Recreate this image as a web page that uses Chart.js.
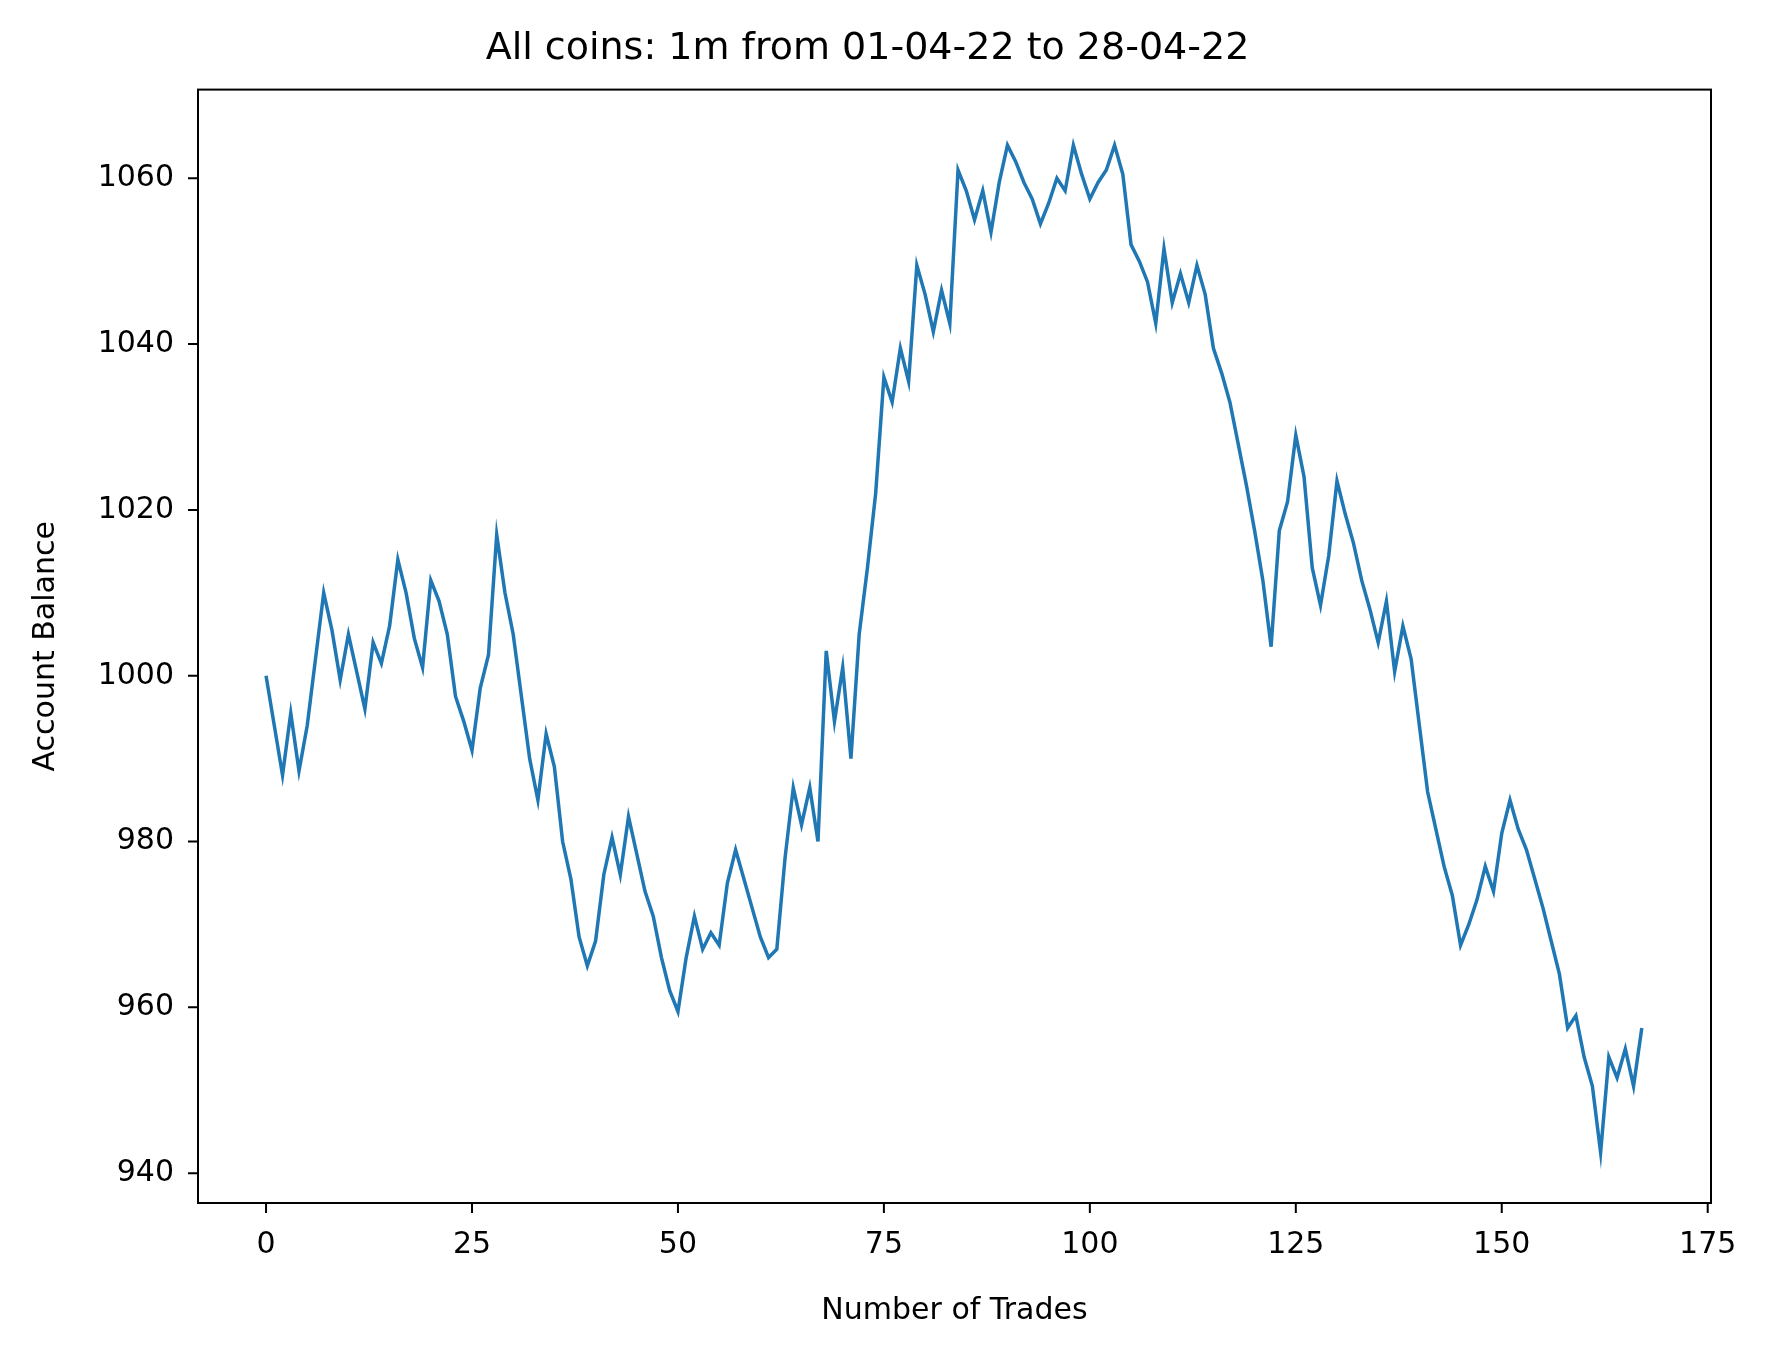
<!DOCTYPE html>
<html>
<head>
<meta charset="utf-8">
<script src="https://cdn.jsdelivr.net/npm/chart.js@4.4.0/dist/chart.umd.min.js"></script>
<style>
  body { margin: 0; background: #fff; }
  #wrap { width: 1778px; height: 1361px; }
</style>
</head>
<body>
<div id="wrap"><canvas id="balanceChart" width="1778" height="1361"></canvas></div>
<script>
// account balance after each trade
const balances = [
    1000, 994, 988, 995.5, 988.5, 994, 1002, 1010, 1005.5, 999.5,
    1005, 1000.5, 996, 1004, 1001.5, 1006, 1014, 1010, 1004.5, 1001,
    1011.5, 1009, 1005, 997.5, 994.5, 991, 998.5, 1002.5, 1017, 1010,
    1005, 997.5, 990, 985, 993, 989, 980, 975.5, 968.5, 965,
    968, 976, 980.5, 976, 983, 978.5, 974, 971, 966, 962,
    959.5, 966, 971, 967, 969, 967.5, 975, 979, 975.5, 972,
    968.5, 966, 967, 978, 986.5, 982, 986.5, 980, 1003, 994.5,
    1001, 990, 1005, 1013, 1022, 1036, 1033, 1039.5, 1035.5, 1049.5,
    1046, 1041.5, 1046.5, 1042.5, 1061, 1058.5, 1055, 1058.5, 1053.5, 1059.5,
    1064, 1062, 1059.5, 1057.5, 1054.5, 1057, 1060, 1058.5, 1064, 1060.5,
    1057.5, 1059.5, 1061, 1064, 1060.5, 1052, 1050, 1047.5, 1042.5, 1051.5,
    1045, 1048.5, 1045, 1049.5, 1046, 1039.5, 1036.5, 1033, 1028, 1023,
    1017.5, 1011.5, 1003.5, 1017.5, 1021, 1029, 1024, 1013, 1008.5, 1014.5,
    1023.5, 1019.5, 1016, 1011.5, 1008, 1004, 1009, 1000.5, 1006, 1002,
    994, 986, 981.5, 977, 973.5, 967.5, 970, 973, 977, 974,
    981, 985, 981.5, 979, 975.5, 972, 968, 964, 957.5, 959,
    954, 950.5, 942.5, 954, 951.5, 955, 950.5, 957.5
];
const xTicks = [0, 25, 50, 75, 100, 125, 150, 175];
const yTicks = [940, 960, 980, 1000, 1020, 1040, 1060];

const points = balances.map((v, i) => ({ x: i, y: v }));

const font = { family: 'DejaVu Sans', size: 30 };

// black frame round the plot area and outward tick marks, like matplotlib
const frame = {
    id: 'frame',
    afterDraw(chart) {
        const a = chart.chartArea, c = chart.ctx;
        const sx = chart.scales.x, sy = chart.scales.y;
        c.save();
        c.strokeStyle = '#000';
        c.lineWidth = 2;
        c.strokeRect(a.left, a.top, a.right - a.left, a.bottom - a.top);
        c.beginPath();
        xTicks.forEach(v => {
            const px = sx.getPixelForValue(v);
            c.moveTo(px, a.bottom);
            c.lineTo(px, a.bottom + 10);
        });
        yTicks.forEach(v => {
            const py = sy.getPixelForValue(v);
            c.moveTo(a.left, py);
            c.lineTo(a.left - 10, py);
        });
        c.stroke();
        c.restore();
    }
};

new Chart(document.getElementById('balanceChart').getContext('2d'), {
    type: 'line',
    data: {
        datasets: [{
            data: points,
            borderColor: '#1f77b4',
            borderWidth: 3.5,
            pointRadius: 0,
            tension: 0,
            fill: false
        }]
    },
    options: {
        responsive: false,
        animation: false,
        layout: { padding: { left: 24, right: 67, top: 0, bottom: 28 } },
        plugins: {
            legend: { display: false },
            tooltip: { enabled: false },
            title: {
                display: true,
                text: 'All coins: 1m from 01-04-22 to 28-04-22',
                color: '#000',
                font: { family: 'DejaVu Sans', size: 38, weight: 'normal' },
                padding: { top: 26, bottom: 18 }
            }
        },
        scales: {
            x: {
                type: 'linear',
                min: -8.26,
                max: 175.4,
                afterBuildTicks: s => { s.ticks = xTicks.map(v => ({ value: v })); },
                afterFit: s => { s.height = 130; },
                grid: { display: false },
                border: { display: false },
                ticks: { color: '#000', font: font, padding: 16, maxRotation: 0 },
                title: { display: true, text: 'Number of Trades', color: '#000', font: font, padding: { top: 8 } }
            },
            y: {
                min: 936.4,
                max: 1070.7,
                afterBuildTicks: s => { s.ticks = yTicks.map(v => ({ value: v })); },
                afterFit: s => { s.width = 174; },
                grid: { display: false },
                border: { display: false },
                ticks: { color: '#000', font: font, padding: 16, callback: v => String(v) },
                title: { display: true, text: 'Account Balance', color: '#000', font: font, padding: { bottom: 8 } }
            }
        }
    },
    plugins: [frame]
});
</script>
</body>
</html>
